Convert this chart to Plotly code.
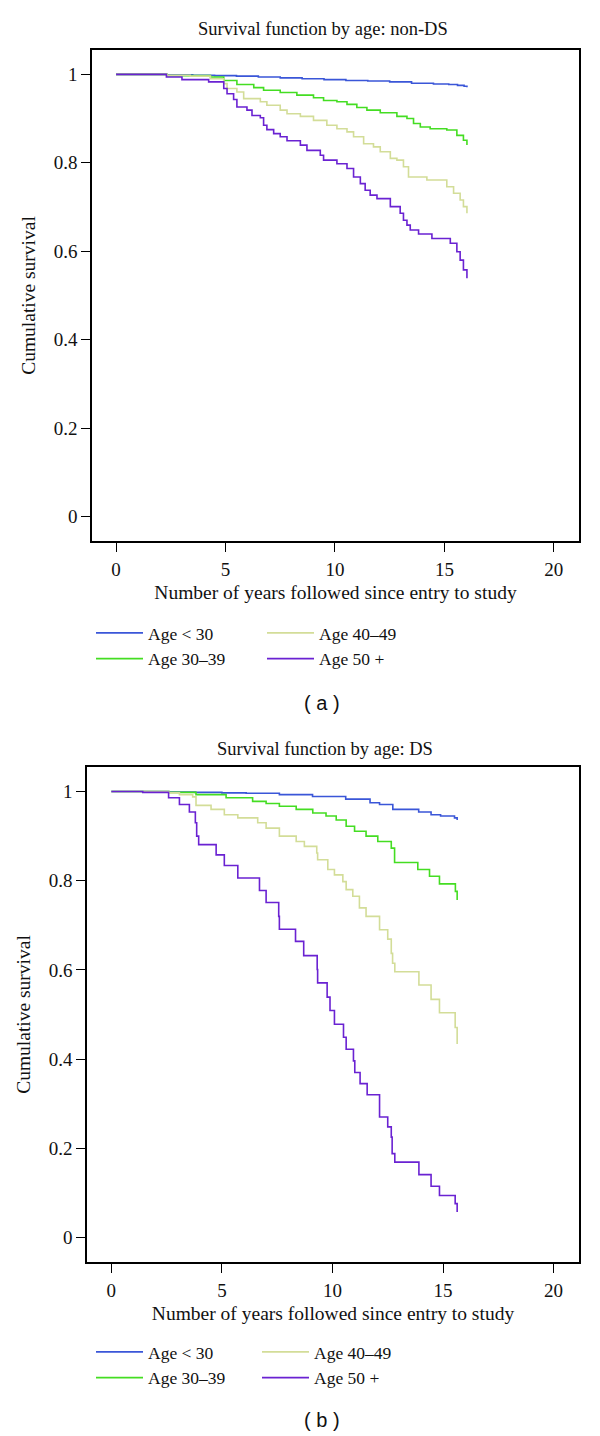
import plotly.graph_objects as go

# ---------------- data ----------------
labels = ["Age < 30", "Age 30–39", "Age 40–49", "Age 50 +"]
colors = ["#3A56D8", "#44DD22", "#D3DD98", "#6A22D2"]

# Panel (a): non-DS
a_t_lt30 = [0, 2.3, 3.5, 4.5, 5.5, 6.5, 7.5, 8.5, 9.5, 10.5, 11.5, 12.5, 13.5, 14.5, 15.2, 15.6, 15.9, 16.03]
a_s_lt30 = [1.0, 0.999, 0.998, 0.997, 0.996, 0.994, 0.992, 0.990, 0.988, 0.986, 0.985, 0.983, 0.980, 0.978, 0.977, 0.975, 0.973, 0.971]

a_t_30s = [0, 2.33, 4.31, 4.92, 5.52, 6.29, 6.74, 7.50, 8.26, 9.02, 9.48, 10.09, 10.55, 11.0, 11.46, 12.07,
           12.83, 13.29, 13.59, 13.9, 14.35, 15.11, 15.57, 15.87, 16.03]
a_s_30s = [1.0, 0.997, 0.994, 0.986, 0.977, 0.970, 0.964, 0.959, 0.953, 0.947, 0.941, 0.938, 0.932, 0.925, 0.919, 0.913,
           0.905, 0.900, 0.889, 0.881, 0.877, 0.874, 0.862, 0.851, 0.840]

a_t_40s = [0, 2.33, 3.39, 4.31, 4.92, 5.07, 5.52, 5.83, 6.59, 6.89, 7.50, 7.81, 8.42, 9.02, 9.63, 10.09, 10.55,
           10.85, 11.31, 11.76, 12.07, 12.53, 12.83, 13.13, 13.36, 14.2, 15.11, 15.42, 15.72, 15.87, 16.03]
a_s_40s = [1.0, 0.998, 0.996, 0.990, 0.979, 0.968, 0.960, 0.945, 0.938, 0.930, 0.919, 0.911, 0.905, 0.896, 0.885, 0.877, 0.870,
           0.859, 0.843, 0.836, 0.825, 0.810, 0.806, 0.791, 0.768, 0.761, 0.746, 0.731, 0.716, 0.701, 0.686]

a_t_50p = [0, 2.30, 3.01, 4.23, 4.92, 5.07, 5.37, 5.52, 5.98, 6.21, 6.59, 6.74, 6.89, 7.20, 7.50, 7.81, 8.42, 8.72,
           9.33, 9.48, 10.09, 10.55, 10.85, 11.16, 11.38, 11.61, 11.92, 12.53, 12.98, 13.13, 13.29, 13.44, 13.82,
           14.43, 15.27, 15.57, 15.72, 15.87, 16.03]
a_s_50p = [1.0, 0.994, 0.988, 0.983, 0.968, 0.956, 0.943, 0.926, 0.919, 0.907, 0.902, 0.885, 0.875, 0.866, 0.859, 0.850, 0.840, 0.828,
           0.817, 0.806, 0.798, 0.787, 0.768, 0.753, 0.738, 0.727, 0.719, 0.701, 0.686, 0.670, 0.659, 0.648, 0.639,
           0.629, 0.618, 0.599, 0.580, 0.558, 0.539]

# Panel (b): DS
b_t_lt30 = [0, 2.6, 3.8, 5.0, 6.1, 7.6, 9.1, 10.6, 11.7, 12.13, 12.73, 13.9, 14.46, 14.89, 15.52, 15.64]
b_s_lt30 = [1.0, 0.999, 0.998, 0.997, 0.996, 0.993, 0.989, 0.983, 0.975, 0.971, 0.960, 0.954, 0.948, 0.945, 0.941, 0.936]

b_t_30s = [0, 2.6, 3.83, 5.19, 6.39, 7.0, 7.6, 8.36, 9.11, 9.71, 10.17, 10.62, 11.0, 11.52, 12.05, 12.66, 12.81,
           13.86, 14.39, 14.84, 15.56, 15.64]
b_s_30s = [1.0, 0.998, 0.993, 0.986, 0.978, 0.973, 0.967, 0.960, 0.952, 0.945, 0.936, 0.922, 0.911, 0.900, 0.888, 0.873, 0.841,
           0.825, 0.810, 0.793, 0.776, 0.757]

b_t_40s = [0, 2.6, 3.08, 3.68, 3.83, 4.51, 5.11, 5.72, 6.62, 7.0, 7.6, 8.36, 8.73, 9.29, 9.33, 9.79, 10.09, 10.47,
           10.62, 10.92, 11.22, 11.52, 12.13, 12.50, 12.66, 12.72, 12.82, 13.91, 14.46, 14.84, 15.55, 15.64]
b_s_40s = [1.0, 0.997, 0.993, 0.988, 0.969, 0.960, 0.948, 0.941, 0.930, 0.918, 0.900, 0.888, 0.877, 0.862, 0.847, 0.825, 0.813, 0.798,
           0.780, 0.765, 0.739, 0.720, 0.690, 0.669, 0.637, 0.615, 0.596, 0.566, 0.534, 0.504, 0.471, 0.434]

b_t_50p = [0, 1.42, 2.59, 3.08, 3.53, 3.80, 3.86, 3.95, 4.74, 5.11, 5.72, 6.70, 7.0, 7.57, 7.6, 8.33, 8.70, 9.31,
           9.33, 9.76, 9.89, 10.09, 10.50, 10.62, 10.95, 11.01, 11.25, 11.57, 12.13, 12.50, 12.66, 12.70, 12.82,
           13.91, 14.46, 14.84, 15.55, 15.64]
b_s_50p = [1.0, 0.998, 0.986, 0.971, 0.954, 0.930, 0.900, 0.881, 0.858, 0.834, 0.806, 0.778, 0.751, 0.720, 0.691, 0.664, 0.632, 0.601,
           0.571, 0.539, 0.509, 0.478, 0.449, 0.422, 0.396, 0.370, 0.345, 0.320, 0.270, 0.248, 0.225, 0.188, 0.169,
           0.141, 0.115, 0.094, 0.076, 0.057]

x_ticks = [0, 5, 10, 15, 20]
y_ticks = [0, 0.2, 0.4, 0.6, 0.8, 1]
y_tick_text = ["0", "0.2", "0.4", "0.6", "0.8", "1"]

titles = ["Survival function by age: non-DS", "Survival function by age: DS"]
x_title = "Number of years followed since entry to study"
y_title = "Cumulative survival"
panel_tags = ["( a )", "( b )"]

# ---------------- figure ----------------
W, H = 600, 1436
SERIF = "Liberation Serif"
INK = "#111"

def py(px):
    return 1 - px / H

fig = go.Figure()

panels = [
    ([a_t_lt30, a_t_30s, a_t_40s, a_t_50p], [a_s_lt30, a_s_30s, a_s_40s, a_s_50p], "x", "y", ["legend", "legend2"]),
    ([b_t_lt30, b_t_30s, b_t_40s, b_t_50p], [b_s_lt30, b_s_30s, b_s_40s, b_s_50p], "x2", "y2", ["legend3", "legend4"]),
]
for ts, ss, xa, ya, legs in panels:
    for i, (t, s) in enumerate(zip(ts, ss)):
        fig.add_trace(go.Scatter(
            x=t, y=s, mode="lines", name=labels[i],
            line=dict(color=colors[i], width=1.6, shape="hv"),
            xaxis=xa, yaxis=ya, legend=legs[0] if i < 2 else legs[1],
            showlegend=True,
        ))

axis_common = dict(
    showline=True, mirror=True, linecolor="black", linewidth=1.5,
    ticks="outside", ticklen=9, tickwidth=1.3, tickcolor="black",
    showgrid=False, zeroline=False,
    tickfont=dict(family=SERIF, size=19, color=INK),
)
xr = [-1.1, 21.15]
yr = [-0.055, 1.055]
TFONT = dict(family=SERIF, size=19.5, color=INK)

fig.update_layout(
    width=W, height=H,
    margin=dict(l=0, r=0, t=0, b=0),
    paper_bgcolor="white", plot_bgcolor="white",
    font=dict(family=SERIF, size=18, color=INK),
    xaxis=dict(domain=[92 / W, 579 / W], range=xr, tickvals=x_ticks, anchor="y",
               ticklabelstandoff=1,
               title=dict(text=x_title, standoff=7, font=TFONT), **axis_common),
    yaxis=dict(domain=[py(541), py(50)], range=yr, tickvals=y_ticks, ticktext=y_tick_text, anchor="x",
               ticklabelstandoff=0,
               title=dict(text=y_title, standoff=13, font=TFONT), **axis_common),
    xaxis2=dict(domain=[87 / W, 579 / W], range=xr, tickvals=x_ticks, anchor="y2",
                ticklabelstandoff=1,
                title=dict(text=x_title, standoff=7, font=TFONT), **axis_common),
    yaxis2=dict(domain=[py(1262), py(767)], range=yr, tickvals=y_ticks, ticktext=y_tick_text, anchor="x2",
                ticklabelstandoff=0,
                title=dict(text=y_title, standoff=13, font=TFONT), **axis_common),
)

leg_common = dict(orientation="v", xanchor="left", yanchor="top", bgcolor="rgba(0,0,0,0)",
                  font=dict(family=SERIF, size=17.5, color=INK), tracegroupgap=0, itemwidth=47)
fig.update_layout(
    legend=dict(x=91 / W, y=py(615), **leg_common),
    legend2=dict(x=262 / W, y=py(615), **leg_common),
    legend3=dict(x=91 / W, y=py(1334), **leg_common),
    legend4=dict(x=257 / W, y=py(1334), **leg_common),
)

# panel titles and tags
fig.add_annotation(text=titles[0], x=323 / W, y=py(29), xref="paper", yref="paper",
                   showarrow=False, font=dict(family=SERIF, size=18.5, color=INK), xanchor="center", yanchor="middle")
fig.add_annotation(text=titles[1], x=325 / W, y=py(749), xref="paper", yref="paper",
                   showarrow=False, font=dict(family=SERIF, size=18.5, color=INK), xanchor="center", yanchor="middle")
fig.add_annotation(text=panel_tags[0], x=322 / W, y=py(703), xref="paper", yref="paper",
                   showarrow=False, font=dict(family="Liberation Sans", size=20, color=INK), xanchor="center", yanchor="middle")
fig.add_annotation(text=panel_tags[1], x=322 / W, y=py(1420), xref="paper", yref="paper",
                   showarrow=False, font=dict(family="Liberation Sans", size=20, color=INK), xanchor="center", yanchor="middle")

fig.write_html("out.html", config={"displayModeBar": False},
               post_script="document.body.style.margin='0';")
